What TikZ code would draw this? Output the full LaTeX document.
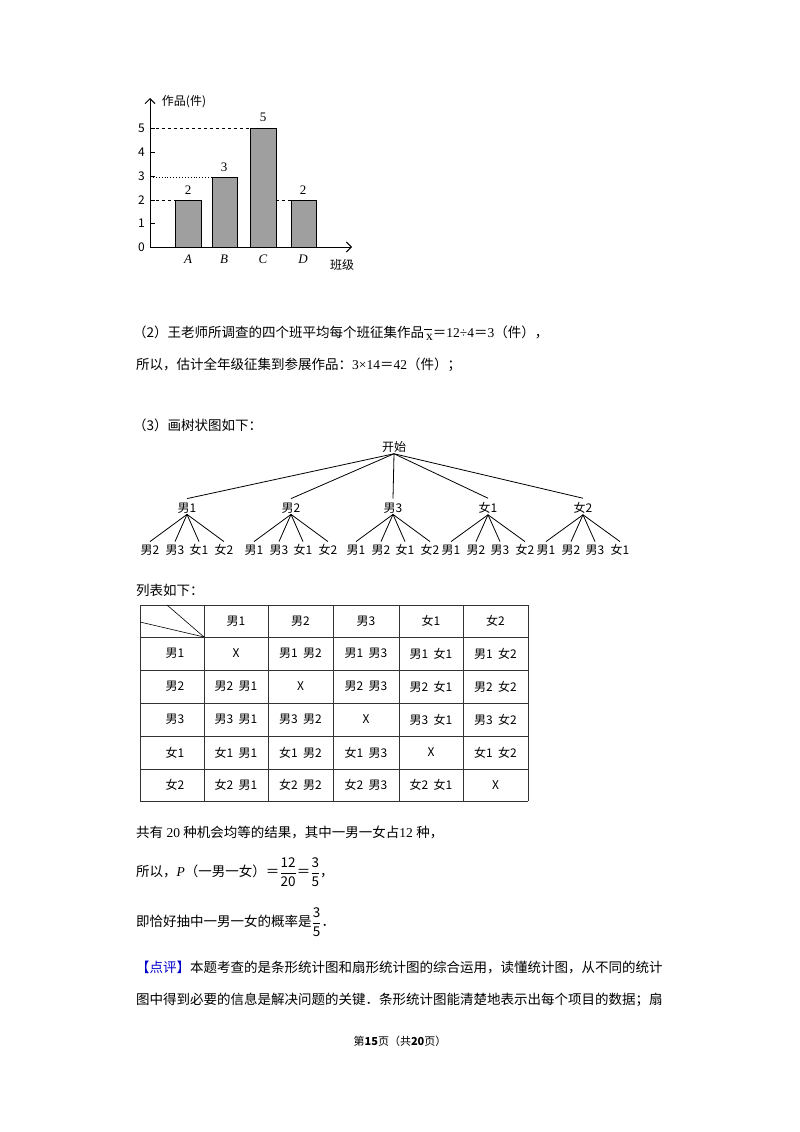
\documentclass[tikz,border=0pt]{standalone}
\usepackage{amsmath}
\usepackage{fontspec}
\setmainfont{Noto Sans CJK SC}
\newfontfamily\serifnum{Liberation Serif}
\usetikzlibrary{arrows.meta,calc}
\def\mydash{X}
\tikzset{
 txt/.style={anchor=west,inner sep=0pt,font=\fontsize{13.5}{16}\selectfont},
 tl/.style={inner sep=1pt,font=\fontsize{12}{14}\selectfont},
 cell/.style={inner sep=0pt,font=\fontsize{12}{14}\selectfont},
 bar/.style={draw=black,fill=gray!75,line width=0.9pt},
 guide/.style={dashed,line width=0.7pt},
 edge/.style={line width=0.8pt},
 grid/.style={line width=0.8pt,draw=black!80}
}
\begin{document}
\begin{tikzpicture}[x=1pt,y=-1pt]
\useasboundingbox (0,0) rectangle (800,1132);
% ---------- bar chart ----------
\coordinate (O) at (150,247);
\coordinate (ytop) at (150,98);
\coordinate (xend) at (352,247);
\draw[line width=0.9pt,-{Straight Barb[length=5pt]}] (O) -- (ytop);
\draw[line width=0.9pt,-{Straight Barb[length=5pt]}] (O) -- (xend);
\node[tl,font=\fontsize{12}{14}\selectfont] (ylab) at (184,102) {作品(件)};
\node[tl,font=\fontsize{12}{14}\selectfont] (xlab) at (342,265) {班级};
\foreach \v/\y in {0/247,1/223.5,2/200,3/176.5,4/152.5,5/128}{
  \draw[line width=0.8pt] (150,\y) -- (155,\y);
  \node[tl,anchor=east] (t\v) at (146,\y) {\v};
}
\draw[guide] (150,128) -- (250,128);
\draw[dotted,line width=0.9pt] (150,177) -- (212,177);
\draw[guide] (150,200) -- (175,200);
\draw[guide] (276,200) -- (291,200);
\draw[bar] (175,247) rectangle (201,200);
\draw[bar] (212,247) rectangle (237,177);
\draw[bar] (250,247) rectangle (276,128);
\draw[bar] (291,247) rectangle (316,200);
\node[tl,font=\serifnum\fontsize{13}{14}\selectfont] (va) at (188,190) {2};
\node[tl,font=\serifnum\fontsize{13}{14}\selectfont] (vb) at (224,167) {3};
\node[tl,font=\serifnum\fontsize{13}{14}\selectfont] (vc) at (263,117) {5};
\node[tl,font=\serifnum\fontsize{13}{14}\selectfont] (vd) at (303,190) {2};
\foreach \l/\x in {A/188,B/224,C/263,D/303}
  \node[tl,font=\serifnum\itshape\fontsize{13}{14}\selectfont] (cl\l) at (\x,259) {\l};
% ---------- text ----------
\node[txt] (p2) at (133,333) {（2）王老师所调查的四个班平均每个班征集作品{\serifnum$\overline{\phantom{x}}$\hspace{-6pt}\raisebox{-3pt}{x}}＝{\serifnum 12÷4}＝{\serifnum 3}（件），};
\node[txt] (p2b) at (136,365) {所以，估计全年级征集到参展作品：{\serifnum 3×14}＝{\serifnum 42}（件）；};
\node[txt] (p3) at (133,425) {（3）画树状图如下：};
% ---------- tree ----------
\node[tl] (root) at (394,447) {开始};
\foreach \n/\t/\x in {a/男1/187,b/男2/291,c/男3/393,d/女1/488,e/女2/583}
  \node[tl] (\n) at (\x,508) {\t};
\foreach \n in {a,b,c,d,e} \draw[edge] (root.south) -- ($(\n.north)+(0,-3)$);
\foreach \n/\t/\x [count=\i] in {a/男1/187,b/男2/291,c/男3/393,d/女1/488,e/女2/583}{
  \foreach \d [count=\j] in {-37,-12,12,37}{
     \node[tl,inner sep=0pt] (L\i\j) at (\x+\d,550) {\phantom{男2}};
     \draw[edge] (\n.south) -- ($(L\i\j.north)+(0,-3)$);
  }
}
\foreach \i/\a/\b/\cc/\d in {1/男2/男3/女1/女2,2/男1/男3/女1/女2,3/男1/男2/女1/女2,4/男1/男2/男3/女2,5/男1/男2/男3/女1}{
  \node[tl,inner sep=0pt] at (L\i1) {\a};
  \node[tl,inner sep=0pt] at (L\i2) {\b};
  \node[tl,inner sep=0pt] at (L\i3) {\cc};
  \node[tl,inner sep=0pt] at (L\i4) {\d};
}
\node[txt] (p4) at (136,590) {列表如下：};
% ---------- table ----------
\foreach \x in {140,204,268,333,399,463,528} \draw[grid] (\x,605) -- (\x,801);
\foreach \y in {605,637,670,703,736,769,801} \draw[grid] (140,\y) -- (528,\y);
\draw[line width=0.6pt] (167,605) -- (204,637);
\draw[line width=0.6pt] (140,622) -- (204,637);
\foreach \t/\x in {男1/236,男2/300.5,男3/366,女1/431,女2/495.5}
  \node[cell] at (\x,621) {\t};
\foreach \t/\y in {男1/653.5,男2/686.5,男3/719.5,女1/752.5,女2/785}
  \node[cell] at (175,\y) {\t};
\foreach \r/\y/\cA/\cB/\cC/\cD/\cE in {
 1/653.5/X/男1\ \ 男2/男1\ \ 男3/男1\ \ 女1/男1\ \ 女2,
 2/686.5/男2\ \ 男1/X/男2\ \ 男3/男2\ \ 女1/男2\ \ 女2,
 3/719.5/男3\ \ 男1/男3\ \ 男2/X/男3\ \ 女1/男3\ \ 女2,
 4/752.5/女1\ \ 男1/女1\ \ 男2/女1\ \ 男3/X/女1\ \ 女2,
 5/785/女2\ \ 男1/女2\ \ 男2/女2\ \ 男3/女2\ \ 女1/X}{
  \foreach \cc/\x in {\cA/236,\cB/300.5,\cC/366,\cD/431,\cE/495.5}{
    \ifx\cc\mydash\draw[line width=0.8pt] (\x-18,\y+1) -- (\x+18,\y+1);
    \else\node[cell] at (\x,\y) {\cc};\fi
  }
}
% ---------- conclusion ----------
\node[txt] (p5) at (136,832) {共有{\serifnum\ 20 }种机会均等的结果，其中一男一女占{\serifnum 12 }种，};
\node[txt] (p6) at (136,872) {所以，{\serifnum\itshape P}（一男一女）＝$\dfrac{\text{12}}{\text{20}}$＝$\dfrac{\text{3}}{\text{5}}$，};
\node[txt] (p7) at (136,922) {即恰好抽中一男一女的概率是$\dfrac{\text{3}}{\text{5}}$．};
\node[txt] (p8) at (136,967) {\textcolor{blue!80!black}{【点评】}本题考查的是条形统计图和扇形统计图的综合运用，读懂统计图，从不同的统计};
\node[txt] (p9) at (136,1000) {图中得到必要的信息是解决问题的关键．条形统计图能清楚地表示出每个项目的数据；扇};
\node[tl,font=\fontsize{11}{13}\selectfont] (foot) at (400,1041) {第\textbf{15}页（共\textbf{20}页）};
\end{tikzpicture}
\end{document}
